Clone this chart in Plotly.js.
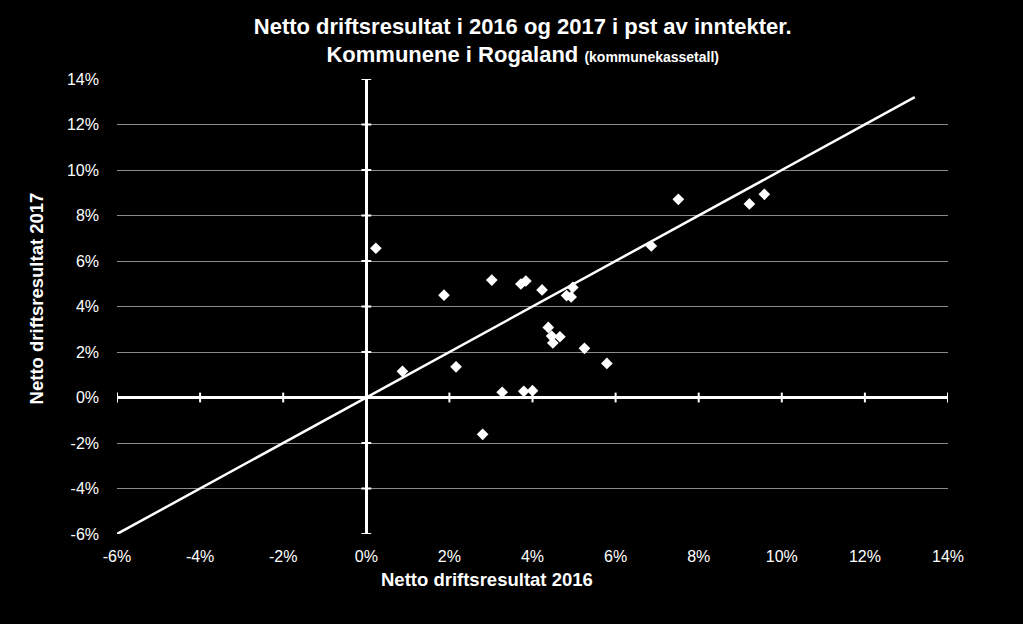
<!DOCTYPE html>
<html>
<head>
<meta charset="utf-8">
<script src="https://cdn.plot.ly/plotly-3.0.1.min.js"></script>
<style>
html,body{margin:0;padding:0;background:#000;}
#chart{width:1023px;height:624px;}
</style>
</head>
<body>
<div id="chart"></div>
<script>
// Netto driftsresultat (% av inntekter), kommunene i Rogaland
var result2016 = [0.23, 0.87, 1.87, 2.16, 3.02, 2.80, 3.27, 3.72, 3.84, 3.79, 4.00, 4.23, 4.38, 4.46, 4.49, 4.66, 4.82, 4.93, 4.97, 5.25, 5.79, 6.86, 7.51, 9.22, 9.58];
var result2017 = [6.56, 1.15, 4.50, 1.35, 5.16, -1.62, 0.23, 4.99, 5.12, 0.27, 0.30, 4.73, 3.08, 2.70, 2.40, 2.67, 4.48, 4.42, 4.84, 2.16, 1.50, 6.66, 8.71, 8.51, 8.93];
// 45-degree reference line
var refLine = [-6, 13.2];
var tickVals = [-6, -4, -2, 0, 2, 4, 6, 8, 10, 12, 14];
var tickText = ['-6%', '-4%', '-2%', '0%', '2%', '4%', '6%', '8%', '10%', '12%', '14%'];
var zeros = tickVals.map(function(){ return 0; });

var font = 'Liberation Sans, Arial, sans-serif';

var traces = [
  {
    x: refLine, y: refLine, type: 'scatter', mode: 'lines',
    line: {color: '#ffffff', width: 2.5}, hoverinfo: 'skip', showlegend: false
  },
  {
    x: tickVals, y: zeros, type: 'scatter', mode: 'markers',
    marker: {symbol: 'line-ns', size: 7, line: {color: '#ffffff', width: 2}},
    hoverinfo: 'skip', showlegend: false
  },
  {
    x: zeros, y: tickVals, type: 'scatter', mode: 'markers',
    marker: {symbol: 'line-ew', size: 7, line: {color: '#ffffff', width: 2}},
    hoverinfo: 'skip', showlegend: false
  },
  {
    x: result2016, y: result2017, type: 'scatter', mode: 'markers',
    marker: {symbol: 'diamond', size: 9, color: '#ffffff'},
    showlegend: false
  }
];

var layout = {
  width: 1023, height: 624,
  paper_bgcolor: '#000000', plot_bgcolor: '#000000',
  margin: {l: 117, r: 75, t: 79, b: 90},
  font: {family: font, color: '#ffffff', size: 16},
  title: {
    text: '<b>Netto driftsresultat i 2016 og 2017 i pst av inntekter.</b><br><b>Kommunene i Rogaland</b> <b><span style="font-size:14px">(kommunekassetall)</span></b>',
    font: {family: font, size: 22, color: '#ffffff'},
    x: 0.511, xref: 'container', xanchor: 'center',
    y: 0.946, yref: 'container', yanchor: 'top'
  },
  xaxis: {
    range: [-6, 14], tickvals: tickVals, ticktext: tickText,
    showgrid: false, zeroline: true, zerolinecolor: '#ffffff', zerolinewidth: 3,
    showline: false, ticks: '', tickfont: {size: 16, color: '#ffffff', family: font},
    ticklabelstandoff: 11, fixedrange: true
  },
  yaxis: {
    range: [-6, 14], tickvals: tickVals, ticktext: tickText,
    showgrid: true, gridcolor: '#8c8c8c', gridwidth: 1,
    zeroline: true, zerolinecolor: '#ffffff', zerolinewidth: 3,
    showline: false, ticks: '', tickfont: {size: 16, color: '#ffffff', family: font},
    ticklabelstandoff: 17, fixedrange: true
  },
  annotations: [
    {
      text: '<b>Netto driftsresultat 2016</b>', xref: 'paper', yref: 'paper',
      x: (487 - 117) / 831, y: -0.1, xanchor: 'center', yanchor: 'middle',
      showarrow: false, font: {family: font, size: 18.5, color: '#ffffff'}
    },
    {
      text: '<b>Netto driftsresultat 2017</b>', xref: 'paper', yref: 'paper',
      x: -0.097, y: (534 - 298) / 455, xanchor: 'center', yanchor: 'middle', textangle: -90,
      showarrow: false, font: {family: font, size: 18.5, color: '#ffffff'}
    }
  ]
};

Plotly.newPlot('chart', traces, layout, {displayModeBar: false, staticPlot: true});
</script>
</body>
</html>
